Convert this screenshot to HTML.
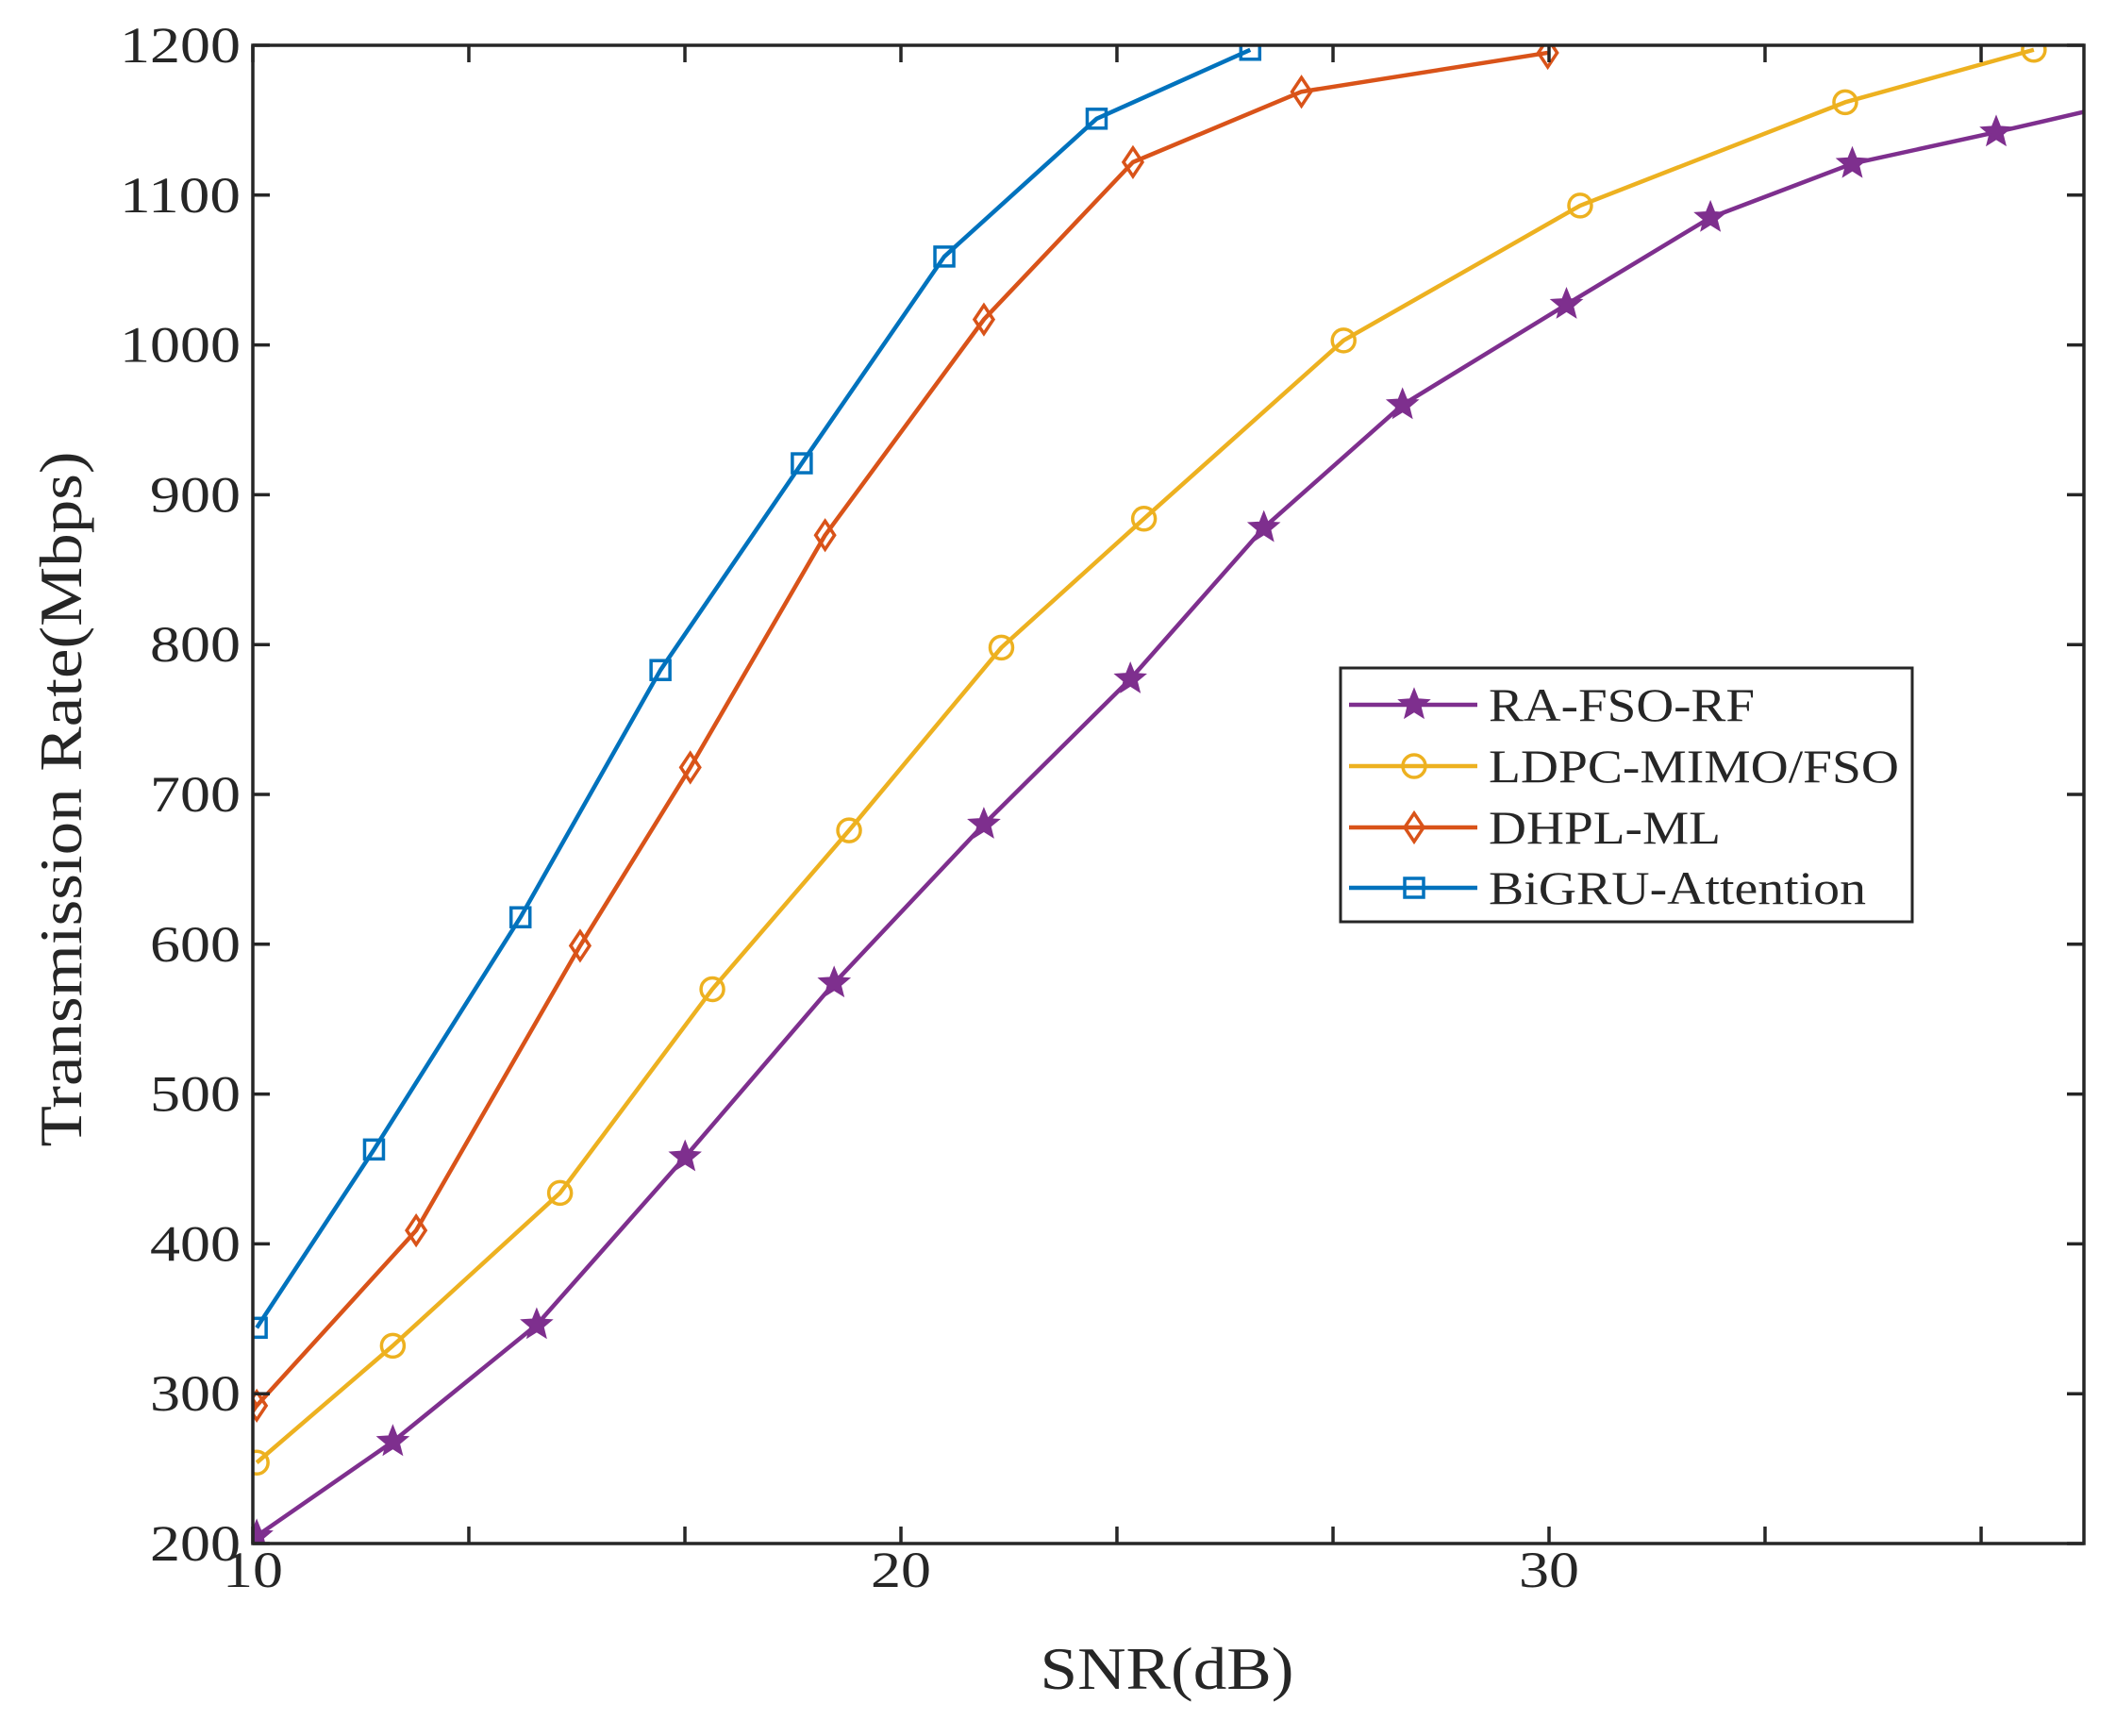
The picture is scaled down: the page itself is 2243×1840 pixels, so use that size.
<!DOCTYPE html>
<html><head><meta charset="utf-8"><style>
html,body{margin:0;padding:0;background:#fff;}
svg{display:block;font-family:"Liberation Serif",serif;}
</style></head><body>
<svg id="chart" width="2243" height="1840" viewBox="0 0 2243 1840" xmlns="http://www.w3.org/2000/svg">
<defs><clipPath id="plotclip"><rect x="268" y="48" width="1941" height="1588"/></clipPath></defs>
<rect x="0" y="0" width="2243" height="1840" fill="#fff"/>
<g id="series" clip-path="url(#plotclip)"></g>
<rect x="268" y="48" width="1941" height="1588" fill="none" stroke="#262626" stroke-width="3.5"/>
<g id="ticks"></g>
<text x="1237" y="1790" font-size="64" text-anchor="middle" textLength="269" lengthAdjust="spacingAndGlyphs" fill="#262626">SNR(dB)</text>
<text transform="translate(86,847) rotate(-90)" font-size="64" text-anchor="middle" textLength="737" lengthAdjust="spacingAndGlyphs" fill="#262626">Transmission Rate(Mbps)</text>
<g id="legend"></g>
</svg>
<script>
const xTickValues = [10, 13.333, 16.667, 20, 23.333, 26.667, 30, 33.333, 36.667];
const xTickLabels = ["10", "", "", "20", "", "", "30", "", ""];
const yTickValues = [200,300,400,500,600,700,800,900,1000,1100,1200];
const seriesNames = ["RA-FSO-RF","LDPC-MIMO/FSO","DHPL-ML","BiGRU-Attention"];
const raX = [10.06,12.16,14.38,16.67,18.97,21.28,23.54,25.60,27.74,30.27,32.49,34.68,36.90,38.6];
const raY = [205,268,346,458,574,680,777,878,960,1027,1085,1121,1142,1159];
const ldpcX = [10.06,12.16,14.74,17.09,19.20,21.55,23.75,26.83,30.48,34.57,37.48];
const ldpcY = [254,332,434,570,676,798,884,1003,1093,1162,1197];
const dhplX = [9.92,10.06,12.52,15.05,16.75,18.83,21.28,23.58,26.18,29.98];
const dhplY = [292,292,409,599,718,873,1017,1122,1169,1195];
const bigruX = [10.06,11.87,14.13,16.29,18.47,20.67,23.02,25.39];
const bigruY = [344,463,618,783,921,1059,1151,1197];

const X0=268,X1=2209,Y0=1636,Y1=48, XMIN=10, XMAX=10+(X1-X0)/68.7, YMIN=200, YMAX=1200;
const sx=v=>X0+(v-XMIN)/(XMAX-XMIN)*(X1-X0);
const sy=v=>Y0-(v-YMIN)/(YMAX-YMIN)*(Y0-Y1);
const NS="http://www.w3.org/2000/svg";
function mk(tag,attrs,parent){const e=document.createElementNS(NS,tag);for(const k in attrs)e.setAttribute(k,attrs[k]);parent.appendChild(e);return e;}
const ticks=document.getElementById('ticks');
xTickValues.forEach((v,i)=>{const x=sx(v);
 const t=mk('line',{x1:x,x2:x,y1:Y0,y2:Y0-18,stroke:'#262626','stroke-width':3.5},ticks);
 
 
 const t2=mk('line',{x1:x,x2:x,y1:Y1,y2:Y1+18,stroke:'#262626','stroke-width':3.5},ticks);
 
 
 if(xTickLabels[i]){const l=mk('text',{x:x,y:1682,'font-size':54,'text-anchor':'middle',fill:'#262626',textLength:xTickLabels[i].length*32,lengthAdjust:'spacingAndGlyphs'},ticks);l.textContent=xTickLabels[i];
 
 }
});
yTickValues.forEach(v=>{const y=sy(v);
 const t=mk('line',{x1:X0,x2:X0+18,y1:y,y2:y,stroke:'#262626','stroke-width':3.5},ticks);
 
 
 const t2=mk('line',{x1:X1,x2:X1-18,y1:y,y2:y,stroke:'#262626','stroke-width':3.5},ticks);
 
 
 const s=String(v);
 const l=mk('text',{x:255,y:y+18,'font-size':54,'text-anchor':'end',fill:'#262626',textLength:s.length*32,lengthAdjust:'spacingAndGlyphs'},ticks);l.textContent=s;
 
 
});
function marker(type,x,y,color,parent){
 let e;
 if(type==='star'){const pts=[];for(let k=0;k<10;k++){const r=k%2?7:16;const a=-Math.PI/2+k*Math.PI/5;pts.push((x+r*Math.cos(a)).toFixed(1)+','+(y+r*Math.sin(a)).toFixed(1));}
  e=mk('polygon',{points:pts.join(' '),fill:color,stroke:color,'stroke-width':2},parent);}
 else if(type==='circle'){e=mk('circle',{cx:x,cy:y,r:12,fill:'none',stroke:color,'stroke-width':3.5},parent);}
 else if(type==='diamond'){e=mk('polygon',{points:`${x},${y-15} ${x+10},${y} ${x},${y+15} ${x-10},${y}`,fill:'none',stroke:color,'stroke-width':3.5},parent);}
 else {e=mk('rect',{x:x-10,y:y-10,width:20,height:20,fill:'none',stroke:color,'stroke-width':3.5},parent);}
 return e;
}
const cfg=[
 {xs:raX,ys:raY,c:'#7E2F8E',m:'star',n:'ra-fso-rf'},
 {xs:ldpcX,ys:ldpcY,c:'#EDB120',m:'circle',n:'ldpc-mimo-fso'},
 {xs:dhplX,ys:dhplY,c:'#D95319',m:'diamond',n:'dhpl-ml'},
 {xs:bigruX,ys:bigruY,c:'#0072BD',m:'square',n:'bigru-attention'}];
const sg=document.getElementById('series');
cfg.forEach(s=>{const g=mk('g',{},sg);
 
 
 const p=mk('polyline',{points:s.xs.map((v,i)=>sx(v)+','+sy(s.ys[i])).join(' '),fill:'none',stroke:s.c,'stroke-width':4.5,'stroke-linejoin':'round'},g);
 
 
 s.xs.forEach((v,i)=>{const e=marker(s.m,sx(v),sy(s.ys[i]),s.c,g);
  
  });
});
const lg=document.getElementById('legend');


const box=mk('rect',{x:1421,y:708,width:606,height:269,fill:'#fff',stroke:'#262626','stroke-width':3},lg);


const ly=[747,812,877,941];
const lw=[282,435,246,400];
cfg.forEach((s,i)=>{const g=mk('g',{},lg);
 
 
 mk('line',{x1:1430,x2:1566,y1:ly[i],y2:ly[i],stroke:s.c,'stroke-width':4.5},g);
 marker(s.m,1499,ly[i],s.c,g);
 const t=mk('text',{x:1578,y:ly[i]+17,'font-size':50,fill:'#262626',textLength:lw[i],lengthAdjust:'spacingAndGlyphs'},g);t.textContent=seriesNames[i];
});
</script>
</body></html>
